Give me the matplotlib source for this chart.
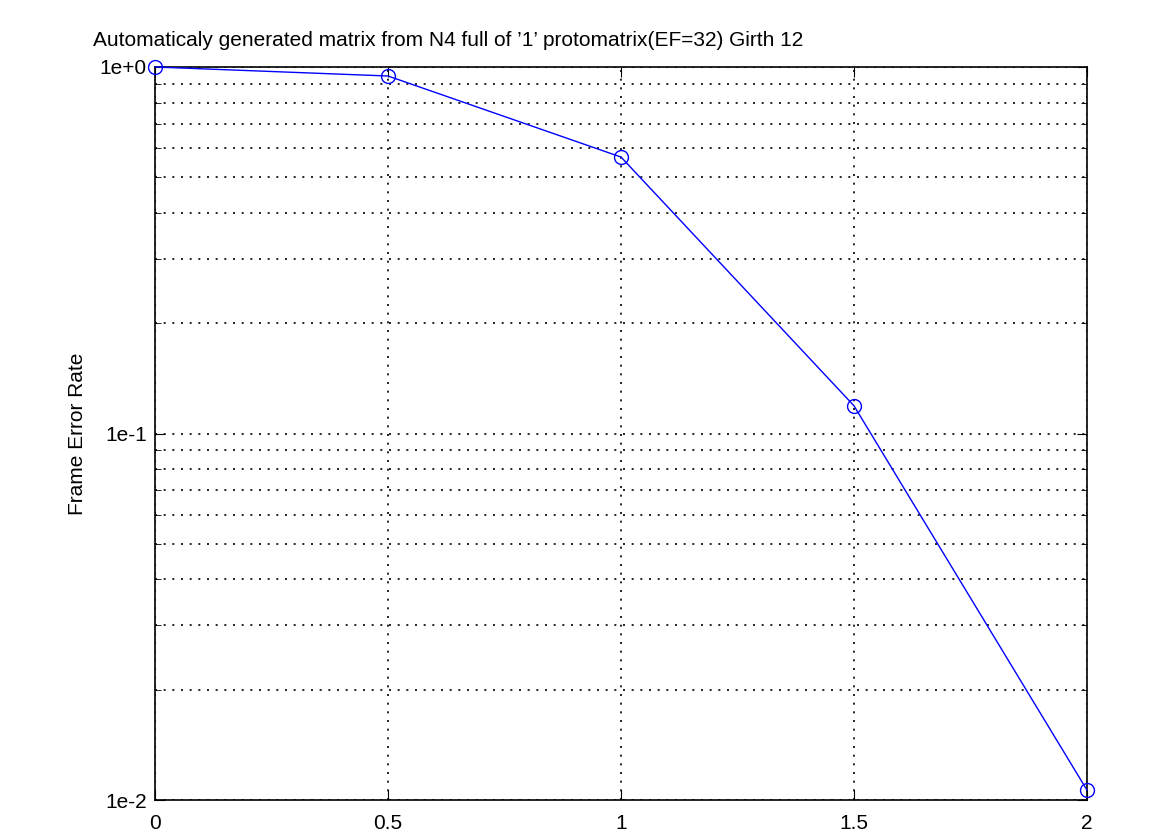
import matplotlib
matplotlib.use("Agg")
import matplotlib.pyplot as plt
from matplotlib.ticker import FixedLocator, LogLocator, NullFormatter

snr = [0, 0.5, 1, 1.5, 2]
fer = [1.0, 0.945, 0.568, 0.119, 0.01064]
ytick_vals = [1e-2, 1e-1, 1e0]
ytick_labels = ["1e-2", "1e-1", "1e+0"]
xtick_vals = [0, 0.5, 1, 1.5, 2]
xtick_labels = ["0", "0.5", "1", "1.5", "2"]

plt.rcParams["font.family"] = ["Liberation Sans", "DejaVu Sans"]

fig = plt.figure(figsize=(11.75, 8.35), dpi=100)
ax = fig.add_axes([155 / 1175, 1 - 800 / 835, (1087 - 155) / 1175, (800 - 67) / 835])

ax.semilogy(snr, fer, color="blue", lw=1, marker="o", ms=10, mfc="none", mec="blue", mew=1, clip_on=False, zorder=5)

ax.set_xlim(0, 2)
ax.set_ylim(1e-2, 1e0)
ax.xaxis.set_major_locator(FixedLocator(xtick_vals))
ax.set_xticklabels(xtick_labels)
ax.yaxis.set_major_locator(FixedLocator(ytick_vals))
ax.set_yticklabels(ytick_labels)
ax.yaxis.set_minor_locator(LogLocator(base=10, subs=range(2, 10)))
ax.yaxis.set_minor_formatter(NullFormatter())

ax.tick_params(which="both", direction="in", top=True, right=True, labelsize=15)
ax.tick_params(axis="x", pad=10)
ax.tick_params(axis="y", pad=6)
ax.tick_params(which="major", length=7)
ax.tick_params(which="minor", length=4)

ax.grid(True, which="major", axis="both", color="black", ls=(0, (1.2, 4)), lw=1.2)
ax.grid(True, which="minor", axis="y", color="black", ls=(0, (1.2, 4)), lw=1.2)

for s in ax.spines.values():
    s.set_linewidth(1.2)

ax.set_ylabel("Frame Error Rate", fontsize=15, labelpad=9)
fig.text(93 / 1175, 1 - 40 / 835, "Automaticaly generated matrix from N4 full of \u20191\u2019 protomatrix(EF=32) Girth 12",
         fontsize=15, ha="left", va="center")

fig.savefig("out.png", dpi=100)
